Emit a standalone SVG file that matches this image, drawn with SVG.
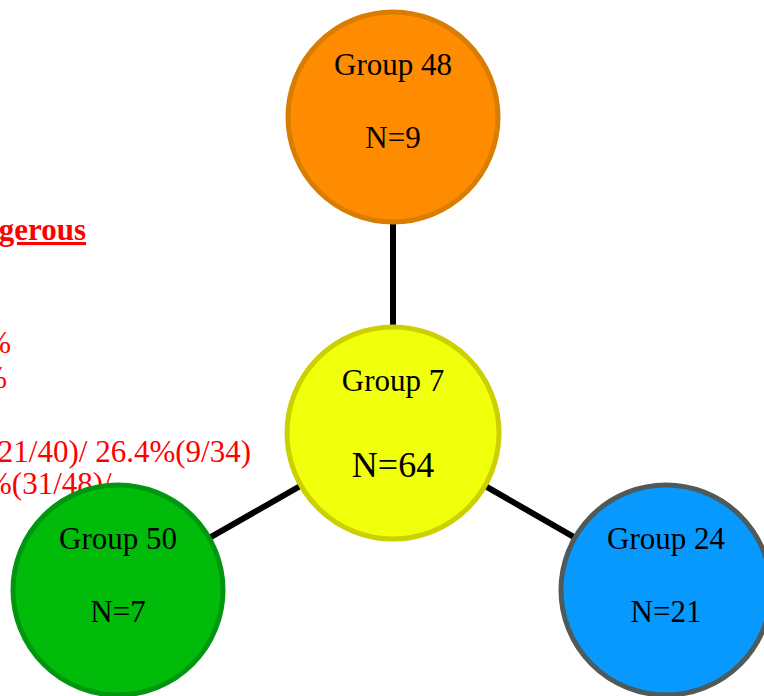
<svg xmlns="http://www.w3.org/2000/svg" width="764" height="696" viewBox="0 0 764 696">
<style>
.lbl{font-family:"Liberation Serif","Times New Roman",serif;font-size:31px;fill:#000;text-anchor:middle}
.big{font-size:36px}
.red{font-family:"Liberation Serif","Times New Roman",serif;font-size:31px;fill:#FF0000}
.edge{stroke:#000;stroke-width:6;fill:none}
.node{stroke-width:5}
</style>
<rect width="764" height="696" fill="#fff"/>
<g id="notes">
<text class="red" x="86" y="240" text-anchor="end" font-weight="bold" text-decoration="underline" font-size="32">gerous</text>
<text class="red" x="11" y="353" text-anchor="end">%</text>
<text class="red" x="7" y="388" text-anchor="end">%</text>
<text class="red" x="251" y="462" text-anchor="end">21/40)/ 26.4%(9/34)</text>
<text class="red" x="-14" y="494">%(31/48)/</text>
</g>
<g id="connectors">
<line class="edge" x1="393" y1="117" x2="393" y2="433"/>
<line class="edge" x1="393" y1="433" x2="118" y2="590"/>
<line class="edge" x1="393" y1="433" x2="666" y2="590"/>
</g>
<g id="group48">
<circle class="node" cx="393" cy="117" r="105" fill="#FF8C00" stroke="#D97D00"/>
<text class="lbl" x="393" y="75">Group 48</text>
<text class="lbl" x="393" y="148">N=9</text>
</g>
<g id="group7">
<circle class="node" cx="393" cy="433" r="106" fill="#F0FF0A" stroke="#CCD000"/>
<text class="lbl" x="393" y="391">Group 7</text>
<text class="lbl big" x="393" y="477">N=64</text>
</g>
<g id="group50">
<circle class="node" cx="118" cy="590" r="105" fill="#00BB0A" stroke="#00960F"/>
<text class="lbl" x="118" y="549">Group 50</text>
<text class="lbl" x="118" y="622">N=7</text>
</g>
<g id="group24">
<circle class="node" cx="666" cy="590" r="105" fill="#0899FF" stroke="#4F5A5A"/>
<text class="lbl" x="666" y="549">Group 24</text>
<text class="lbl" x="666" y="622">N=21</text>
</g>
</svg>
